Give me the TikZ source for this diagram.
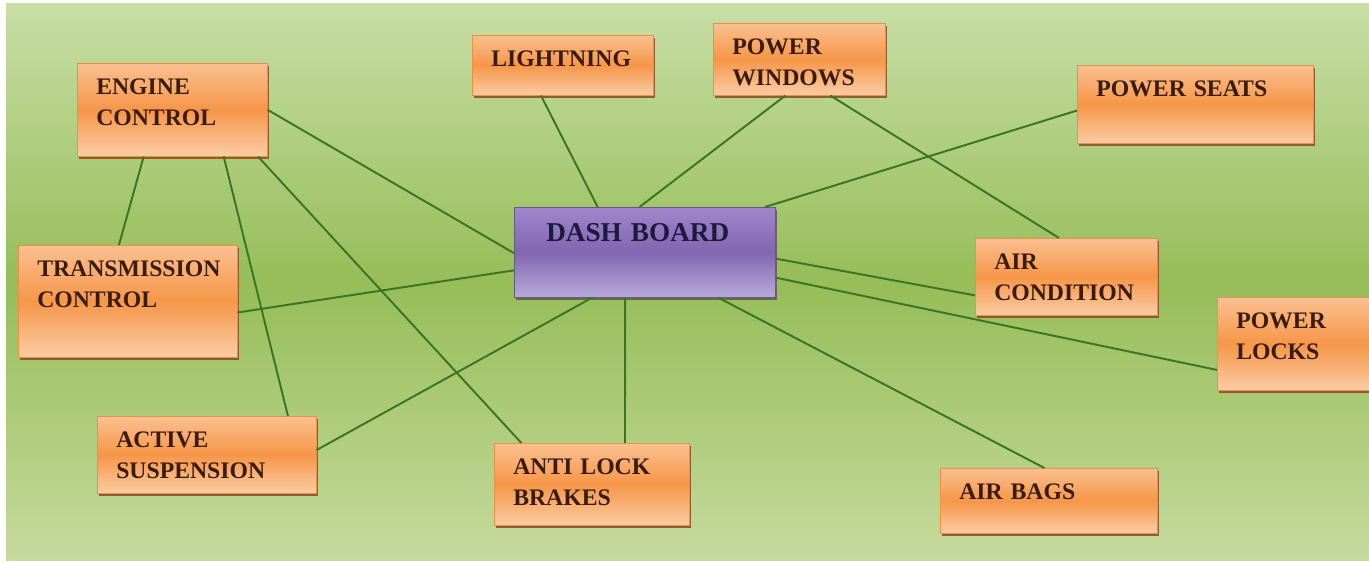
\documentclass[tikz,border=0pt]{standalone}
\usepackage{fontspec}
\setmainfont{Liberation Serif}
\usetikzlibrary{calc, shadows}
\definecolor{bgtop}{RGB}{200,222,166}
\definecolor{bgmid}{RGB}{150,189,88}
\definecolor{bgbot}{RGB}{198,218,158}
\definecolor{unittop}{RGB}{250,192,145}
\definecolor{unitmid}{RGB}{246,150,72}
\definecolor{unitbot}{RGB}{251,204,165}
\definecolor{unitshadow}{RGB}{140,80,38}
\definecolor{unittext}{RGB}{58,28,14}
\definecolor{hubtop}{RGB}{158,134,204}
\definecolor{hubmid}{RGB}{130,102,176}
\definecolor{hubbot}{RGB}{184,170,218}
\definecolor{hubtext}{RGB}{30,26,62}
\definecolor{wire}{RGB}{58,118,34}
\tikzset{
    unit/.style = {rectangle, anchor=north west, draw=unitmid!80!brown, line width=0.3pt, top color=unittop, bottom color=unitbot, middle color=unitmid, drop shadow={shadow xshift=0.8pt, shadow yshift=-1.8pt, fill=unitshadow, opacity=0.9}, text=unittext, font=\fontsize{13.5}{18}\selectfont\bfseries, align=left, inner xsep=0.38cm, inner ysep=0pt, text height=0.62cm},
    hub/.style = {unit, draw=hubtext!70, top color=hubtop, bottom color=hubbot, middle color=hubmid, drop shadow={shadow xshift=0.8pt, shadow yshift=-1.8pt, fill=black!60, opacity=0.8}, text=hubtext, font=\fontsize{15.5}{19}\selectfont\bfseries, inner xsep=0.64cm, text height=0.68cm},
    line/.style = {draw, wire, line width=1.1pt}
}
\begin{document}
\begin{tikzpicture}[x=0.02cm, y=-0.02cm]
        \useasboundingbox (0,0) rectangle (1369,563);
        % Background
        \shade [top color=bgtop, bottom color=bgbot, middle color=bgmid] (6,4) rectangle (1369,560);

        % Units
        \node [unit, text width=3.04cm, text depth=1.24cm] (eng) at (77,63) {ENGINE\\CONTROL};
        \node [unit, text width=3.62cm, text depth=1.62cm] (trans) at (18,245) {TRANSMISSION\\CONTROL};
        \node [unit, text width=2.86cm, text depth=0.58cm] (light) at (472,35) {LIGHTNING};
        \node [unit, text width=2.68cm, text depth=0.82cm] (pwin) at (713,23) {POWER\\WINDOWS};
        \node [unit, text width=3.96cm, text depth=0.94cm] (pseat) at (1077,65) {POWER SEATS};
        \node [hub, text width=3.94cm, text depth=1.12cm] (dash) at (514,207) {DASH BOARD};
        \node [unit, text width=2.88cm, text depth=0.92cm] (airc) at (975,238) {AIR\\CONDITION};
        \node [unit, text width=2.28cm, text depth=1.24cm] (plock) at (1217,297) {POWER\\LOCKS};
        \node [unit, text width=3.62cm, text depth=0.92cm] (susp) at (97,416) {ACTIVE\\SUSPENSION};
        \node [unit, text width=3.14cm, text depth=1.02cm] (abs) at (494,443) {ANTI LOCK\\BRAKES};
        \node [unit, text width=3.58cm, text depth=0.68cm] (bags) at (940,468) {AIR BAGS};

        % Links from engine control
        \path [line] ($(eng.south west)!.35!(eng.south east)$) -- ($(trans.north west)!.46!(trans.north east)$);
        \path [line] ($(eng.south west)!.77!(eng.south east)$) -- ($(susp.north west)!.87!(susp.north east)$);
        \path [line] ($(eng.south west)!.95!(eng.south east)$) -- ($(abs.north west)!.14!(abs.north east)$);
        \path [line] ($(eng.north east)!.5!(eng.south east)$) -- ($(dash.north west)!.51!(dash.south west)$);
        \path [line] ($(trans.north east)!.6!(trans.south east)$) -- ($(dash.north west)!.7!(dash.south west)$);

        % Links into dash board
        \path [line] ($(light.south west)!.38!(light.south east)$) -- ($(dash.north west)!.32!(dash.north east)$);
        \path [line] ($(pwin.south west)!.42!(pwin.south east)$) -- ($(dash.north west)!.48!(dash.north east)$);
        \path [line] ($(pwin.south west)!.68!(pwin.south east)$) -- ($(airc.north west)!.46!(airc.north east)$);
        \path [line] ($(pseat.north west)!.58!(pseat.south west)$) -- ($(dash.north west)!.96!(dash.north east)$);
        \path [line] ($(dash.north east)!.57!(dash.south east)$) -- ($(airc.north west)!.74!(airc.south west)$);
        \path [line] ($(dash.north east)!.78!(dash.south east)$) -- ($(plock.north west)!.78!(plock.south west)$);
        \path [line] ($(dash.south west)!.78!(dash.south east)$) -- ($(bags.north west)!.48!(bags.north east)$);
        \path [line] ($(dash.south west)!.425!(dash.south east)$) -- ($(abs.north west)!.67!(abs.north east)$);
        \path [line] ($(dash.south west)!.3!(dash.south east)$) -- ($(susp.north east)!.44!(susp.south east)$);

    \end{tikzpicture}
\end{document}
